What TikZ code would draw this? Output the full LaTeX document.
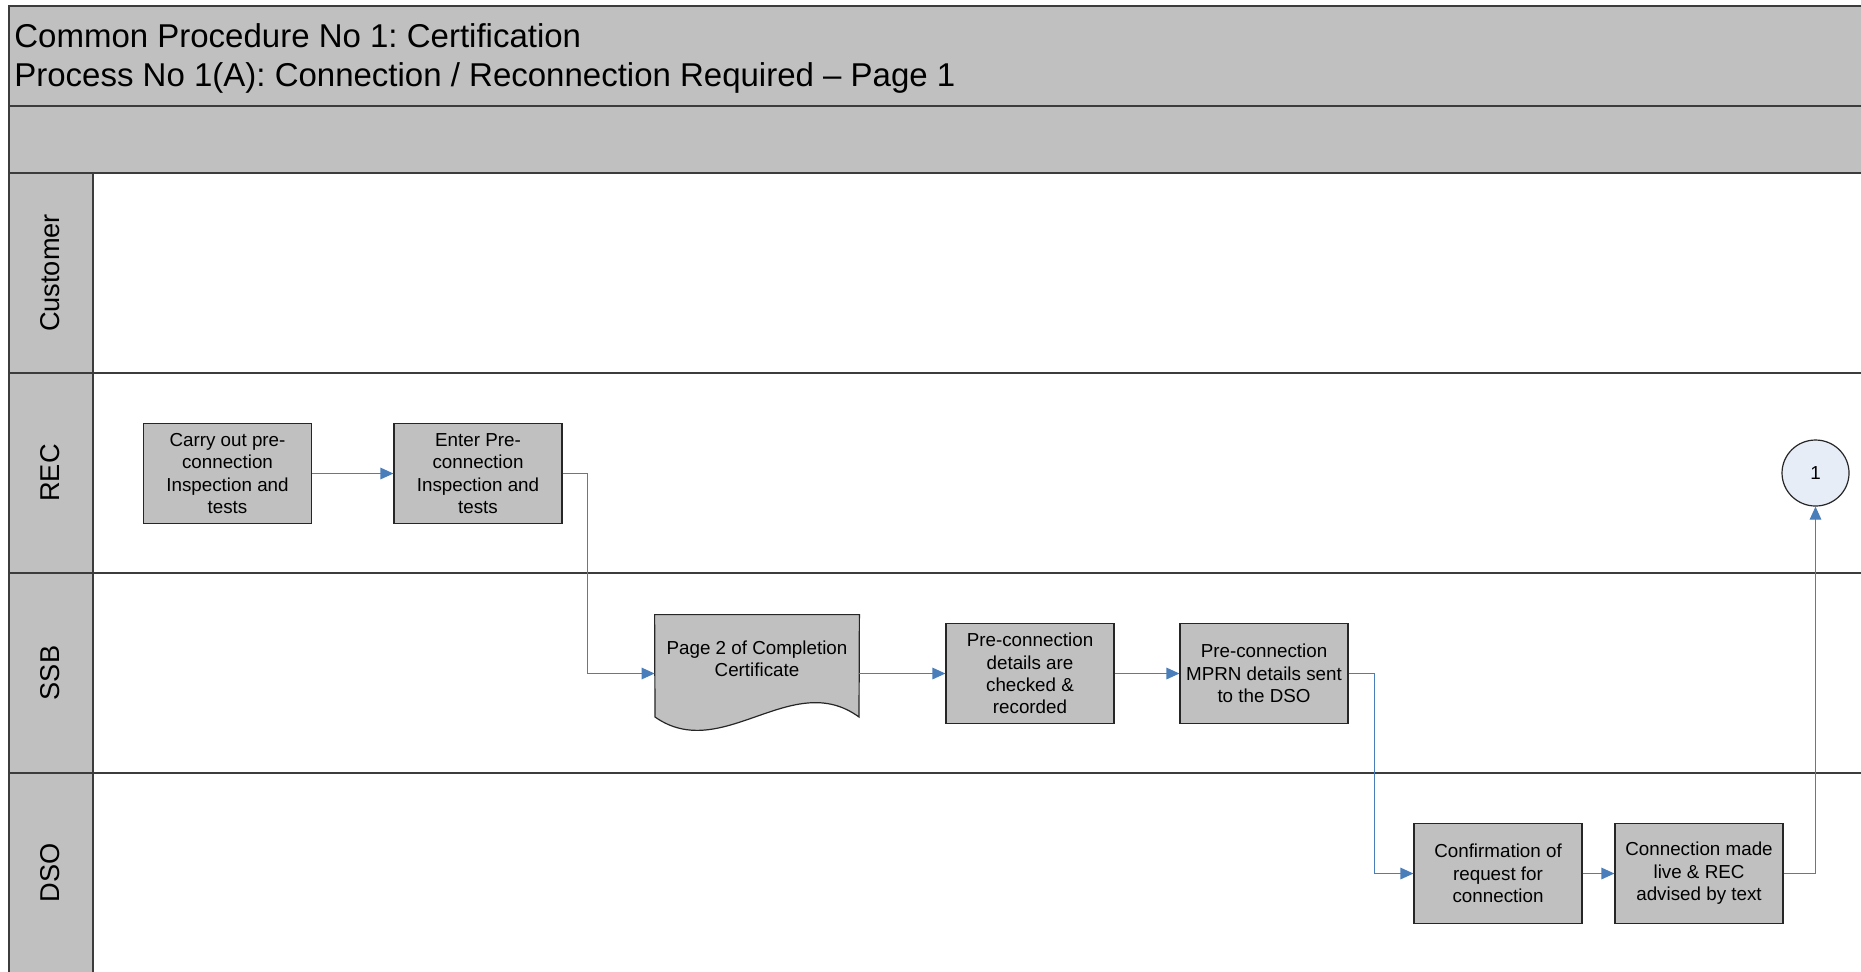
\documentclass[tikz,border=0pt]{standalone}
\usepackage{fontspec}
\setmainfont{Liberation Sans}
\usetikzlibrary{arrows.meta,shapes.geometric}
\frenchspacing

\definecolor{bandgrey}{HTML}{C0C0C0}
\definecolor{framegrey}{HTML}{3C3C3C}
\definecolor{flowblue}{HTML}{4A7EBB}
\definecolor{connfill}{HTML}{E6EDF7}

\tikzset{
  frameline/.style={draw=framegrey, line width=1pt},
  procbox/.style={rectangle, draw=black!85, line width=0.6pt, fill=bandgrey,
    minimum width=84pt, minimum height=50pt, inner sep=0pt, align=center,
    font=\fontsize{9.4}{11.2}\selectfont},
  boxtext/.style={inner sep=0pt, align=center, font=\fontsize{9.4}{11.2}\selectfont},
  docnode/.style={rectangle, draw=none, minimum width=102pt, minimum height=58.5pt, inner sep=0pt},
  docshape/.style={draw=black!85, line width=0.6pt, fill=bandgrey},
  connector/.style={ellipse, draw=black!85, line width=0.6pt, fill=connfill,
    minimum width=33.5pt, minimum height=33pt, inner sep=0pt,
    font=\fontsize{9.4}{11}\selectfont},
  lanelabel/.style={rotate=90, inner sep=0pt, font=\fontsize{13.6}{16}\selectfont},
  titletext/.style={anchor=base west, inner sep=0pt, font=\fontsize{16.5}{19.5}\selectfont},
  flow/.style={draw=flowblue, line width=0.6pt,
    -{Triangle[length=6.5pt, width=5.8pt]}},
}

\begin{document}
\begin{tikzpicture}[x=0.5pt, y=-0.5pt]
  \useasboundingbox (0,0) rectangle (1861,971);
  \fill[white] (0,0) rectangle (1861,971);
  \clip (0,0) rectangle (1861,971);

  % header bands
  \fill[bandgrey] (9,6) rectangle (1870,173);
  % lane label column
  \fill[bandgrey] (9,173) rectangle (93,990);

  % frame and lane separators
  \draw[frameline] (1870,6) -- (9,6) -- (9,990);
  \draw[frameline] (9,106) -- (1870,106);
  \draw[frameline] (9,173) -- (1870,173);
  \draw[frameline] (93,173) -- (93,990);
  \draw[frameline] (9,373) -- (1870,373);
  \draw[frameline] (9,573) -- (1870,573);
  \draw[frameline] (9,773) -- (1870,773);

  % title
  \node[titletext] (title1) at (14,47) {Common Procedure No 1: Certification};
  \node[titletext] (title2) at (14,86) {Process No 1(A): Connection / Reconnection Required – Page 1};

  % lane names
  \node[lanelabel] (lcust) at (50,273) {Customer};
  \node[lanelabel] (lrec)  at (50,473) {REC};
  \node[lanelabel] (lssb)  at (50,673) {SSB};
  \node[lanelabel] (ldso)  at (50,873) {DSO};

  % REC lane
  \node[procbox] (carry) at (227.5,473.5) {Carry out pre-\\connection\\Inspection and\\tests};
  \node[procbox] (enter) at (478,473.5) {Enter Pre-\\connection\\Inspection and\\tests};
  \node[connector] (offpage) at (1815.5,473) {1};

  % SSB lane: document shape
  \node[docnode] (cert) at (757,673.5) {};
  \path[docshape] (cert.north west) -- (cert.north east) -- (859,717)
    .. controls (792,668) and (722,764) .. (655,717) -- cycle;
  \node[boxtext] (certtext) at (757,659) {Page 2 of Completion\\Certificate};

  \node[procbox] (checked) at (1030,673.5) {Pre-connection\\details are\\checked \&\\recorded};
  \node[procbox] (sent) at (1264,673.5) {Pre-connection\\MPRN details sent\\to the DSO};

  % DSO lane
  \node[procbox] (confirm) at (1498,873.5) {Confirmation of\\request for\\connection};
  \node[procbox] (live) at (1699,873.5) {Connection made\\live \& REC\\advised by text};

  % flow
  \draw[flow] (carry.east) -- (enter.west);
  \draw[flow] (enter.east) -- ++(25,0) |- (cert.west);
  \draw[flow] (cert.east) -- (checked.west);
  \draw[flow] (checked.east) -- (sent.west);
  \draw[flow] (sent.east) -- ++(26,0) |- (confirm.west);
  \draw[flow] (confirm.east) -- (live.west);
  \draw[flow] (live.east) -| (offpage.south);
\end{tikzpicture}
\end{document}
